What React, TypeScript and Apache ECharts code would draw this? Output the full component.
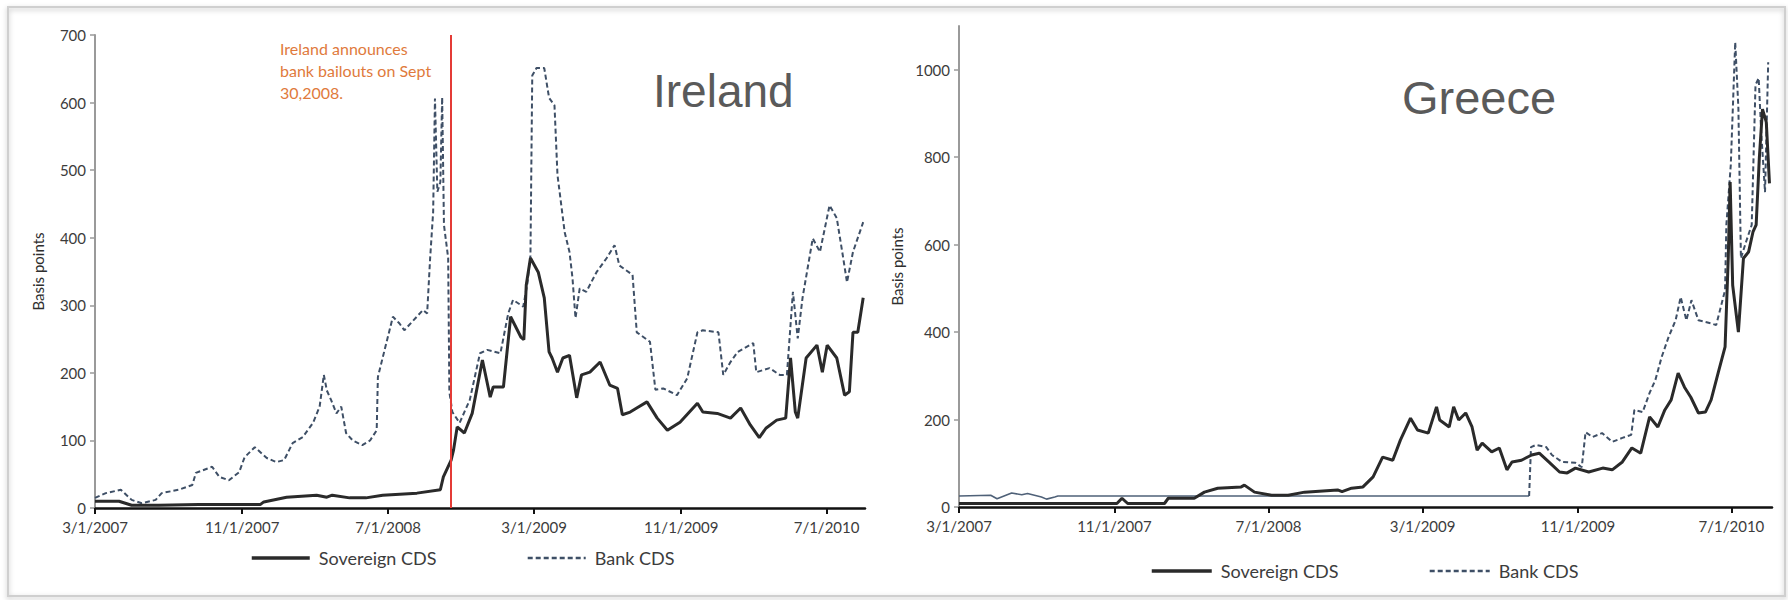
import React, { useEffect, useRef } from 'react';
import * as echarts from 'echarts';

// ---------- data ----------
const xTickDates = ['2007-03-01', '2007-11-01', '2008-07-01', '2009-03-01', '2009-11-01', '2010-07-01'];
const xMinDate = '2007-03-01';
const xMaxDate = '2010-09-03';
const bailoutLineDate = '2008-10-13';

const ireYTicks = [0, 100, 200, 300, 400, 500, 600, 700];
const greYTicks = [0, 200, 400, 600, 800, 1000];

const ireBankDates = [
  '2007-03-01', '2007-03-19', '2007-04-13', '2007-05-01', '2007-05-18', '2007-06-10', '2007-06-20', '2007-07-18',
  '2007-08-10', '2007-08-16', '2007-09-12', '2007-09-24', '2007-10-10', '2007-10-27', '2007-11-05', '2007-11-22',
  '2007-12-12', '2007-12-28', '2008-01-10', '2008-01-24', '2008-02-10', '2008-02-27', '2008-03-09', '2008-03-16',
  '2008-03-21', '2008-03-28', '2008-04-06', '2008-04-14', '2008-04-22', '2008-05-03', '2008-05-19', '2008-06-01',
  '2008-06-12', '2008-06-14', '2008-06-28', '2008-07-09', '2008-07-20', '2008-07-28', '2008-08-28', '2008-09-04',
  '2008-09-09', '2008-09-14', '2008-09-17', '2008-09-21', '2008-09-26', '2008-09-29', '2008-10-02', '2008-10-09',
  '2008-10-11', '2008-10-16', '2008-10-28', '2008-11-14', '2008-12-01', '2008-12-13', '2009-01-04', '2009-01-17',
  '2009-01-25', '2009-02-11', '2009-02-18', '2009-02-23', '2009-02-26', '2009-03-05', '2009-03-18', '2009-03-26',
  '2009-04-04', '2009-04-09', '2009-04-21', '2009-04-29', '2009-05-04', '2009-05-09', '2009-05-16', '2009-05-27',
  '2009-06-13', '2009-06-30', '2009-07-13', '2009-07-21', '2009-08-12', '2009-08-19', '2009-09-10', '2009-09-19',
  '2009-10-02', '2009-10-25', '2009-11-11', '2009-11-28', '2009-12-07', '2010-01-02', '2010-01-10', '2010-01-22',
  '2010-02-03', '2010-03-01', '2010-03-06', '2010-03-28', '2010-04-14', '2010-04-26', '2010-05-06', '2010-05-14',
  '2010-05-22', '2010-06-08', '2010-06-20', '2010-07-06', '2010-07-18', '2010-07-28', '2010-08-04', '2010-08-14',
  '2010-08-31',
];
const ireBankValues = [
  15, 22, 27, 12, 7, 12, 22, 27,
  34, 52, 61, 46, 41, 53, 75, 90,
  74, 68, 71, 96, 105, 126, 150, 197,
  174, 160, 140, 150, 111, 100, 93, 100,
  115, 194, 244, 283, 273, 263, 293, 288,
  370, 438, 606, 468, 482, 608, 419, 370,
  172, 142, 126, 160, 229, 234, 229, 288,
  308, 298, 333, 374, 640, 651, 651, 607,
  596, 493, 408, 379, 340, 281, 325, 320,
  349, 370, 389, 359, 345, 260, 246, 175,
  177, 167, 192, 260, 263, 260, 197, 216,
  231, 244, 201, 207, 197, 197, 320, 251,
  311, 399, 379, 448, 429, 374, 334, 379,
  423,
];

const ireSovDates = [
  '2007-03-01', '2007-04-10', '2007-05-01', '2007-06-15', '2007-08-21', '2007-12-01', '2007-12-07', '2008-01-14',
  '2008-03-04', '2008-03-21', '2008-03-30', '2008-04-28', '2008-05-25', '2008-06-22', '2008-08-18', '2008-09-26',
  '2008-10-01', '2008-10-14', '2008-10-18', '2008-10-24', '2008-11-05', '2008-11-18', '2008-12-05', '2008-12-18',
  '2008-12-23', '2009-01-09', '2009-01-21', '2009-02-07', '2009-02-12', '2009-02-16', '2009-02-23', '2009-03-08',
  '2009-03-18', '2009-03-26', '2009-03-31', '2009-04-09', '2009-04-18', '2009-04-29', '2009-05-11', '2009-05-19',
  '2009-06-02', '2009-06-19', '2009-07-05', '2009-07-18', '2009-07-26', '2009-08-08', '2009-08-19', '2009-09-05',
  '2009-09-22', '2009-10-09', '2009-10-30', '2009-11-28', '2009-12-07', '2009-12-31', '2010-01-22', '2010-02-08',
  '2010-02-24', '2010-03-11', '2010-03-22', '2010-04-09', '2010-04-24', '2010-05-02', '2010-05-10', '2010-05-14',
  '2010-05-28', '2010-06-15', '2010-06-24', '2010-07-02', '2010-07-18', '2010-07-31', '2010-08-08', '2010-08-14',
  '2010-08-22', '2010-08-31',
];
const ireSovValues = [
  10, 10, 4, 4, 5, 5, 9, 16,
  19, 16, 19, 15, 15, 19, 22, 27,
  46, 71, 86, 120, 111, 140, 219, 164,
  179, 179, 283, 253, 249, 330, 370, 349,
  311, 231, 222, 201, 222, 226, 163, 197,
  201, 216, 182, 177, 138, 142, 148, 157,
  133, 115, 127, 155, 142, 140, 133, 148,
  123, 104, 118, 130, 133, 222, 142, 133,
  222, 241, 201, 241, 222, 167, 172, 260,
  260, 311,
];

const greSovDates = [
  '2007-03-01', '2007-11-05', '2007-11-13', '2007-11-22', '2008-01-19', '2008-01-25', '2008-03-06', '2008-03-22',
  '2008-04-12', '2008-05-19', '2008-05-24', '2008-06-09', '2008-07-06', '2008-08-01', '2008-08-27', '2008-10-18',
  '2008-10-25', '2008-11-09', '2008-11-27', '2008-12-13', '2008-12-28', '2009-01-13', '2009-01-25', '2009-02-10',
  '2009-02-21', '2009-03-10', '2009-03-23', '2009-03-28', '2009-04-12', '2009-04-19', '2009-04-27', '2009-05-08',
  '2009-05-18', '2009-05-26', '2009-06-03', '2009-06-18', '2009-06-30', '2009-07-12', '2009-07-20', '2009-08-04',
  '2009-08-20', '2009-09-01', '2009-09-16', '2009-10-03', '2009-10-15', '2009-10-28', '2009-11-18', '2009-12-10',
  '2009-12-25', '2010-01-10', '2010-01-25', '2010-02-08', '2010-02-22', '2010-03-07', '2010-03-18', '2010-03-28',
  '2010-04-08', '2010-04-18', '2010-04-28', '2010-05-10', '2010-05-21', '2010-05-30', '2010-06-10', '2010-06-21',
  '2010-06-26', '2010-06-29', '2010-07-03', '2010-07-12', '2010-07-20', '2010-07-28', '2010-08-04', '2010-08-09',
  '2010-08-14', '2010-08-19', '2010-08-25', '2010-08-30',
];
const greSovValues = [
  8, 8, 20, 8, 8, 20, 20, 34,
  43, 46, 50, 34, 27, 27, 34, 39,
  35, 43, 46, 69, 114, 107, 153, 203,
  176, 169, 229, 199, 183, 229, 199, 215,
  183, 130, 146, 126, 135, 85, 103, 107,
  119, 123, 103, 80, 78, 89, 80, 89,
  85, 103, 135, 123, 206, 183, 222, 245,
  306, 274, 251, 215, 217, 245, 306, 366,
  569, 743, 507, 400, 569, 583, 629, 645,
  798, 910, 880, 740,
];

const greBankEarlyDates = [
  '2007-03-01', '2007-04-20', '2007-04-30', '2007-05-23', '2007-06-08', '2007-06-17', '2007-07-09', '2007-07-17',
  '2007-07-30', '2007-08-04', '2009-08-16',
];
const greBankEarlyValues = [25, 27, 19, 32, 28, 31, 23, 18, 23, 25, 25];

const greBankDates = [
  '2009-08-16', '2009-08-19', '2009-08-27', '2009-09-12', '2009-09-21', '2009-10-07', '2009-10-28', '2009-11-07',
  '2009-11-13', '2009-11-24', '2009-12-09', '2009-12-25', '2010-01-10', '2010-01-24', '2010-01-29', '2010-02-11',
  '2010-02-22', '2010-03-03', '2010-03-13', '2010-03-24', '2010-04-04', '2010-04-12', '2010-04-21', '2010-04-29',
  '2010-05-10', '2010-05-30', '2010-06-07', '2010-06-21', '2010-06-23', '2010-06-30', '2010-07-07', '2010-07-12',
  '2010-07-16', '2010-07-24', '2010-08-02', '2010-08-08', '2010-08-13', '2010-08-17', '2010-08-23', '2010-08-28',
];
const greBankValues = [
  25, 137, 142, 137, 119, 103, 101, 91,
  171, 160, 169, 149, 158, 165, 222, 217,
  261, 290, 343, 389, 427, 480, 427, 473,
  427, 420, 416, 496, 645, 782, 1063, 912,
  569, 606, 645, 965, 981, 857, 720, 1017,
];

// ---------- helpers ----------
const ts = (s: string) => {
  const [y, m, d] = s.split('-').map(Number);
  return new Date(y, m - 1, d).getTime();
};
const pairs = (dates: string[], vals: number[]) => dates.map((d, i) => [ts(d), vals[i]]);
const fmtDate = (v: number) => {
  const d = new Date(v);
  return `${d.getMonth() + 1}/${d.getDate()}/${d.getFullYear()}`;
};

const FONT = 'Lato, "Noto Sans", sans-serif';
const SOV_COLOR = '#2a2a2a';
const BANK_COLOR = '#3e4f66';
const LABEL_COLOR = '#3c3c3c';

export default function App() {
  const ref = useRef<HTMLDivElement>(null);

  useEffect(() => {
    document.body.style.margin = '0';
    if (!ref.current) return;
    const chart = echarts.init(ref.current, undefined, { renderer: 'svg' });
    const xTicks = xTickDates.map(ts);

    const makeX = (gridIndex: number) => ({
      type: 'value',
      gridIndex,
      min: ts(xMinDate),
      max: ts(xMaxDate),
      axisLine: { show: true, onZero: false, lineStyle: { color: '#111', width: 2.5 } },
      axisTick: { show: true, length: 6, lineStyle: { color: '#111', width: 2 }, customValues: xTicks },
      axisLabel: {
        customValues: xTicks,
        formatter: (v: number) => fmtDate(v),
        color: LABEL_COLOR,
        fontSize: 15,
        fontFamily: FONT,
        margin: 11,
        hideOverlap: false,
      },
      splitLine: { show: false },
    });

    const makeY = (gridIndex: number, max: number, interval: number, ticks: number[], nameGap: number) => ({
      type: 'value',
      gridIndex,
      min: 0,
      max,
      interval,
      axisLine: { show: true, lineStyle: { color: '#9a9a9a', width: 2 } },
      axisTick: { show: true, length: 5, lineStyle: { color: '#9a9a9a', width: 1.5 }, customValues: ticks },
      axisLabel: {
        customValues: ticks,
        formatter: (v: number) => String(v),
        color: LABEL_COLOR,
        fontSize: 15,
        fontFamily: FONT,
        margin: 9,
      },
      splitLine: { show: false },
      name: 'Basis points',
      nameLocation: 'middle',
      nameRotate: 90,
      nameGap,
      nameTextStyle: { color: '#2e2e2e', fontSize: 15, fontFamily: FONT },
    });

    const bankLine = { color: BANK_COLOR, width: 2, type: [5, 3] };
    const sovLine = { color: SOV_COLOR, width: 3, type: 'solid' };

    const legendBase = {
      data: [
        { name: 'Sovereign CDS', lineStyle: { width: 3.5, color: SOV_COLOR } },
        { name: 'Bank CDS', lineStyle: { width: 2.5, color: BANK_COLOR, type: [5, 3] } },
      ],
      itemHeight: 20,
      itemGap: 90,
      padding: 0,
      selectedMode: false,
      itemStyle: { opacity: 0 },
      textStyle: { color: LABEL_COLOR, fontSize: 18, fontFamily: FONT, padding: [0, 0, 0, 4] },
    };

    chart.setOption({
      animation: false,
      backgroundColor: '#ffffff',
      grid: [
        { left: 95, top: 35, width: 770, height: 473 },
        { left: 959, top: 26, width: 813, height: 481 },
      ],
      xAxis: [makeX(0), makeX(1)],
      yAxis: [makeY(0, 700, 100, ireYTicks, 50), makeY(1, 1100, 200, greYTicks, 55)],
      legend: [
        { ...legendBase, left: 250, top: 549, itemWidth: 58 },
        { ...legendBase, left: 1150, top: 562, itemWidth: 60 },
      ],
      series: [
        {
          name: 'Bank CDS',
          type: 'line',
          xAxisIndex: 0,
          yAxisIndex: 0,
          symbol: 'none',
          z: 2,
          lineStyle: bankLine,
          itemStyle: { color: BANK_COLOR },
          data: pairs(ireBankDates, ireBankValues),
        },
        {
          name: 'Sovereign CDS',
          type: 'line',
          xAxisIndex: 0,
          yAxisIndex: 0,
          symbol: 'none',
          z: 3,
          lineStyle: sovLine,
          itemStyle: { color: SOV_COLOR },
          data: pairs(ireSovDates, ireSovValues),
          markLine: {
            silent: true,
            symbol: ['none', 'none'],
            label: { show: false },
            lineStyle: { color: '#e43b36', width: 2, type: 'solid' },
            data: [{ xAxis: ts(bailoutLineDate) }],
          },
        },
        {
          name: 'Bank CDS early',
          type: 'line',
          xAxisIndex: 1,
          yAxisIndex: 1,
          symbol: 'none',
          z: 2,
          lineStyle: { color: '#4f6178', width: 1.6, type: 'solid' },
          itemStyle: { color: BANK_COLOR },
          data: pairs(greBankEarlyDates, greBankEarlyValues),
        },
        {
          name: 'Bank CDS',
          type: 'line',
          xAxisIndex: 1,
          yAxisIndex: 1,
          symbol: 'none',
          z: 2,
          lineStyle: bankLine,
          itemStyle: { color: BANK_COLOR },
          data: pairs(greBankDates, greBankValues),
        },
        {
          name: 'Sovereign CDS',
          type: 'line',
          xAxisIndex: 1,
          yAxisIndex: 1,
          symbol: 'none',
          z: 3,
          lineStyle: sovLine,
          itemStyle: { color: SOV_COLOR },
          data: pairs(greSovDates, greSovValues),
        },
      ],
      graphic: [
        {
          type: 'rect',
          silent: true,
          z: -1,
          shape: { x: 8, y: 7, width: 1777, height: 589 },
          style: { fill: 'none', stroke: '#cfcfcf', lineWidth: 2, shadowBlur: 5, shadowColor: 'rgba(0,0,0,0.25)', shadowOffsetY: 2 },
        },
        {
          type: 'text',
          left: 653,
          top: 68,
          silent: true,
          style: { text: 'Ireland', fontSize: 46, fontFamily: '"Liberation Sans", Arial, sans-serif', fill: '#5a5a5a' },
        },
        {
          type: 'text',
          left: 1402,
          top: 74,
          silent: true,
          style: { text: 'Greece', fontSize: 47, fontFamily: '"Liberation Sans", Arial, sans-serif', fill: '#5a5a5a' },
        },
        {
          type: 'text',
          left: 280,
          top: 37,
          silent: true,
          style: {
            text: 'Ireland announces\nbank bailouts on Sept\n30,2008.',
            fontSize: 16,
            lineHeight: 22,
            fontFamily: FONT,
            fill: '#e07a3c',
          },
        },
      ],
    });

    return () => chart.dispose();
  }, []);

  return <div ref={ref} style={{ width: 1788, height: 600 }} />;
}
